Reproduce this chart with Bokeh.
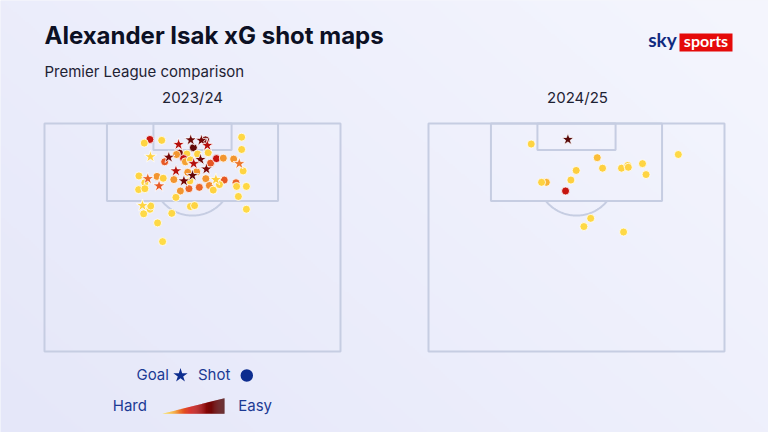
import numpy as np
from bokeh.plotting import figure
from bokeh.models import Range1d, LinearColorMapper, ColumnDataSource
from bokeh.core.properties import value
from bokeh.embed import file_html
from bokeh.resources import INLINE

# ---------------- DATA (pitch coords: x across 0-100, y = distance from goal line 0-50) -------------
seasons = ["2023/24", "2024/25"]

# 2023/24 non-goal shots
shot_x_2324 = [35.6, 33.7, 39.6, 50.3, 54.4, 66.6, 66.6, 40.6, 45.6, 44.6, 48.1, 51.7, 55.3, 47.0,
               47.6, 49.3, 56.1, 58.1, 60.4, 63.9, 67.1, 48.4, 51.4, 31.9, 38.0, 40.1, 43.7, 49.1,
               54.5, 60.7, 64.7, 33.9, 31.8, 33.9, 45.9, 48.8, 52.3, 55.7, 57.0, 59.1, 64.9, 68.2,
               65.5, 44.4, 35.6, 35.9, 33.5, 43.0, 49.3, 50.7, 68.2, 38.2, 39.9]
shot_y_2324 = [3.5, 4.3, 3.7, 5.3, 3.6, 3.0, 5.7, 8.4, 6.5, 6.8, 6.7, 6.7, 6.4, 7.7,
               8.4, 8.0, 8.7, 7.7, 7.6, 7.8, 10.4, 10.7, 10.6, 11.5, 11.6, 12.0, 12.3, 12.6,
               12.1, 12.4, 13.0, 13.0, 14.5, 14.3, 14.8, 14.3, 14.0, 13.6, 14.6, 13.4, 13.8, 13.8,
               16.0, 16.2, 18.8, 18.1, 19.8, 19.7, 18.2, 18.0, 18.8, 21.8, 25.9]
shot_xg_2324 = [0.45, 0.05, 0.05, 0.80, 0.70, 0.04, 0.05, 0.30, 0.70, 0.20, 0.06, 0.06, 0.08, 0.45,
                0.18, 0.08, 0.30, 0.45, 0.20, 0.20, 0.05, 0.20, 0.20, 0.05, 0.20, 0.08, 0.20, 0.07,
                0.20, 0.30, 0.28, 0.05, 0.04, 0.05, 0.20, 0.28, 0.28, 0.22, 0.06, 0.06, 0.05, 0.04,
                0.04, 0.06, 0.04, 0.04, 0.03, 0.04, 0.05, 0.05, 0.03, 0.03, 0.02]

# 2023/24 goals
goal_x_2324 = [45.3, 49.4, 53.0, 55.0, 35.8, 42.0, 52.7, 50.4, 65.8, 44.4, 54.7, 34.9, 47.1, 50.0,
               57.9, 38.7, 33.1]
goal_y_2324 = [4.6, 3.6, 3.7, 4.8, 7.3, 7.4, 7.9, 8.8, 8.8, 10.4, 10.0, 12.1, 12.6, 11.4,
               12.3, 13.7, 18.0]
goal_xg_2324 = [0.50, 0.75, 0.70, 0.50, 0.06, 0.70, 0.72, 0.50, 0.25, 0.50, 0.68, 0.28, 0.70, 0.79,
                0.08, 0.30, 0.05]

# 2024/25 non-goal shots
shot_x_2425 = [34.7, 57.0, 58.8, 65.2, 67.3, 67.5, 72.3, 73.5, 84.4, 49.9, 48.1, 39.8, 38.2, 46.3,
               54.8, 52.5, 65.9]
shot_y_2425 = [4.5, 7.5, 9.8, 9.8, 9.2, 9.6, 8.8, 11.2, 6.8, 10.3, 12.4, 12.9, 12.9, 14.8,
               20.8, 22.6, 23.8]
shot_xg_2425 = [0.05, 0.12, 0.07, 0.06, 0.06, 0.06, 0.05, 0.05, 0.03, 0.08, 0.07, 0.14, 0.06, 0.45,
                0.04, 0.03, 0.03]

# 2024/25 goals
goal_x_2425 = [47.1]
goal_y_2425 = [3.5]
goal_xg_2425 = [0.85]

legend_labels = ["Goal", "Shot", "Hard", "Easy"]

# ---------------- LAYOUT --------------------------------------------------------------------------
W, H = 768, 432
PX_X, PX_Y = 2.96, 4.56      # pixels per pitch unit
ORIGIN_X, ORIGIN_Y = 44, 123  # screen position of the left pitch's top-left corner
PANEL_OFFSET = (428 - 44) / PX_X  # second pitch shift in pitch units


def px2x(X):
    return (X - ORIGIN_X) / PX_X


def px2y(Y):
    return (Y - ORIGIN_Y) / PX_Y


p = figure(width=W, height=H, output_backend="svg", toolbar_location=None,
           x_range=Range1d(px2x(0), px2x(W)), y_range=Range1d(px2y(H), px2y(0)),
           min_border=0, outline_line_color=None)
p.axis.visible = False
p.grid.visible = False
p.background_fill_color = "#eceefa"
p.border_fill_color = "#eceefa"

# subtle background gradient
gh, gw = 216, 384
Yg, Xg = np.mgrid[0:gh, 0:gw]
t = np.clip((Xg / gw) * 0.6 + (1 - Yg / gh) * 0.4, 0, 1)
c0 = np.array([0xE5, 0xE7, 0xF9])
c1 = np.array([0xF5, 0xF6, 0xFE])
rgb = c0[None, None, :] * (1 - t[..., None]) + c1[None, None, :] * t[..., None]
img = np.empty((gh, gw), dtype=np.uint32)
view = img.view(dtype=np.uint8).reshape((gh, gw, 4))
view[..., 0] = rgb[..., 0].astype(np.uint8)
view[..., 1] = rgb[..., 1].astype(np.uint8)
view[..., 2] = rgb[..., 2].astype(np.uint8)
view[..., 3] = 255
p.image_rgba(image=[img], x=px2x(0), y=px2y(0), dw=px2x(W) - px2x(0), dh=px2y(H) - px2y(0))

# ---------------- PITCHES ---------------------------------------------------------------------------
LINE = "#c6cde2"
LW = 2
for off in [0, PANEL_OFFSET]:
    p.quad(left=[off + 0], right=[off + 100], top=[0], bottom=[50], fill_alpha=0,
           line_color=LINE, line_width=LW)
    p.quad(left=[off + 21.1], right=[off + 78.9], top=[0], bottom=[17], fill_alpha=0,
           line_color=LINE, line_width=LW)
    p.quad(left=[off + 36.8], right=[off + 63.2], top=[0], bottom=[5.8], fill_alpha=0,
           line_color=LINE, line_width=LW)
    r_px = 39.6
    rx, ry = r_px / PX_X, r_px / PX_Y
    lim = np.arccos((17 - 11.5) / ry)
    tt = np.linspace(-lim, lim, 60)
    p.line(off + 50 + rx * np.sin(tt), 11.5 + ry * np.cos(tt), line_color=LINE, line_width=LW)

# ---------------- COLOUR SCALE ---------------------------------------------------------------------
stops = [(0.00, "#ffe04a"), (0.10, "#fdcb3c"), (0.20, "#f4a032"), (0.30, "#ea6a2a"),
         (0.45, "#d61a12"), (0.60, "#a80a0a"), (0.75, "#7a0606"), (1.00, "#4e0a0a")]


def hex2rgb(h):
    return np.array([int(h[i:i + 2], 16) for i in (1, 3, 5)], dtype=float)


pal = []
for v in np.linspace(0, 1, 256):
    for (a, ca), (b, cb) in zip(stops[:-1], stops[1:]):
        if a <= v <= b:
            f = (v - a) / (b - a)
            c = hex2rgb(ca) * (1 - f) + hex2rgb(cb) * f
            pal.append("#%02x%02x%02x" % tuple(int(round(x)) for x in c))
            break
mapper = LinearColorMapper(palette=pal, low=0, high=0.9)

# ---------------- SHOTS -----------------------------------------------------------------------------
for sx, sy, sxg, gx, gy, gxg, off in [
    (shot_x_2324, shot_y_2324, shot_xg_2324, goal_x_2324, goal_y_2324, goal_xg_2324, 0),
    (shot_x_2425, shot_y_2425, shot_xg_2425, goal_x_2425, goal_y_2425, goal_xg_2425, PANEL_OFFSET),
]:
    s_src = ColumnDataSource(dict(x=np.array(sx) + off, y=sy, xg=sxg))
    g_src = ColumnDataSource(dict(x=np.array(gx) + off, y=gy, xg=gxg))
    p.scatter("x", "y", source=s_src, marker="circle", size=8,
              fill_color={"field": "xg", "transform": mapper}, line_color="white", line_width=0.8)
    p.scatter("x", "y", source=g_src, marker="star", size=13,
              fill_color={"field": "xg", "transform": mapper}, line_color="white", line_width=0.8)


# ---------------- TEXT ------------------------------------------------------------------------------
FONT = "Inter"
BASE_FIX = 0.42  # renderer places alphabetic baseline ~0.42em lower than requested


def txt(X, Y, s, size, color, font=FONT, style="normal", align="left"):
    sz = float(size.replace("px", ""))
    p.text(x=[px2x(X)], y=[px2y(Y - BASE_FIX * sz)], text=[s], text_font=value(font),
           text_font_size=size, text_font_style=style, text_color=color, text_align=align,
           text_baseline="alphabetic")


txt(44, 45, "Alexander Isak xG shot maps", "24px", "#0c1024", style="bold")
txt(44, 77.3, "Premier League comparison", "15px", "#1e2233")
txt(192, 103.3, seasons[0], "15px", "#1e2233", align="center")
txt(577, 103.3, seasons[1], "15px", "#1e2233", align="center")

# logo
p.quad(left=[px2x(679)], right=[px2x(732)], top=[px2y(33)], bottom=[px2y(51)],
       fill_color="#e50a0a", line_color=None)
txt(705.5, 47, "sports", "16px", "white", font="Lato", style="bold", align="center")
txt(662, 47, "sky", "19px", "#102a80", font="Lato", style="bold", align="center")

# legend
NAVY = "#1c3a94"
txt(136, 380.5, legend_labels[0], "15px", NAVY)
p.scatter([px2x(180)], [px2y(375)], marker="star", size=15, fill_color="#0d2d8f", line_color=None)
txt(197.5, 380.5, legend_labels[1], "15px", NAVY)
p.scatter([px2x(246.3)], [px2y(375)], marker="circle", size=12.5, fill_color="#0d2d8f", line_color=None)
txt(112.3, 411, legend_labels[2], "15px", NAVY)
txt(237.7, 411, legend_labels[3], "15px", NAVY)

# gradient triangle (Hard -> Easy)
tx0, tx1, ty_top, ty_bot = 161.7, 224, 397.7, 413.3
n = 60
xs, ys, cols = [], [], []
for i in range(n):
    a = tx0 + (tx1 - tx0) * i / n
    b = min(tx0 + (tx1 - tx0) * (i + 1.15) / n, tx1)
    ha = ty_bot - (ty_bot - ty_top) * (a - tx0) / (tx1 - tx0)
    hb = ty_bot - (ty_bot - ty_top) * (b - tx0) / (tx1 - tx0)
    xs.append([px2x(a), px2x(b), px2x(b), px2x(a)])
    ys.append([px2y(ty_bot), px2y(ty_bot), px2y(hb), px2y(ha)])
    cols.append(pal[int(255 * i / (n - 1))])
p.patches(xs, ys, fill_color=cols, line_color=None)

open("out.html", "w").write(file_html(p, INLINE))
